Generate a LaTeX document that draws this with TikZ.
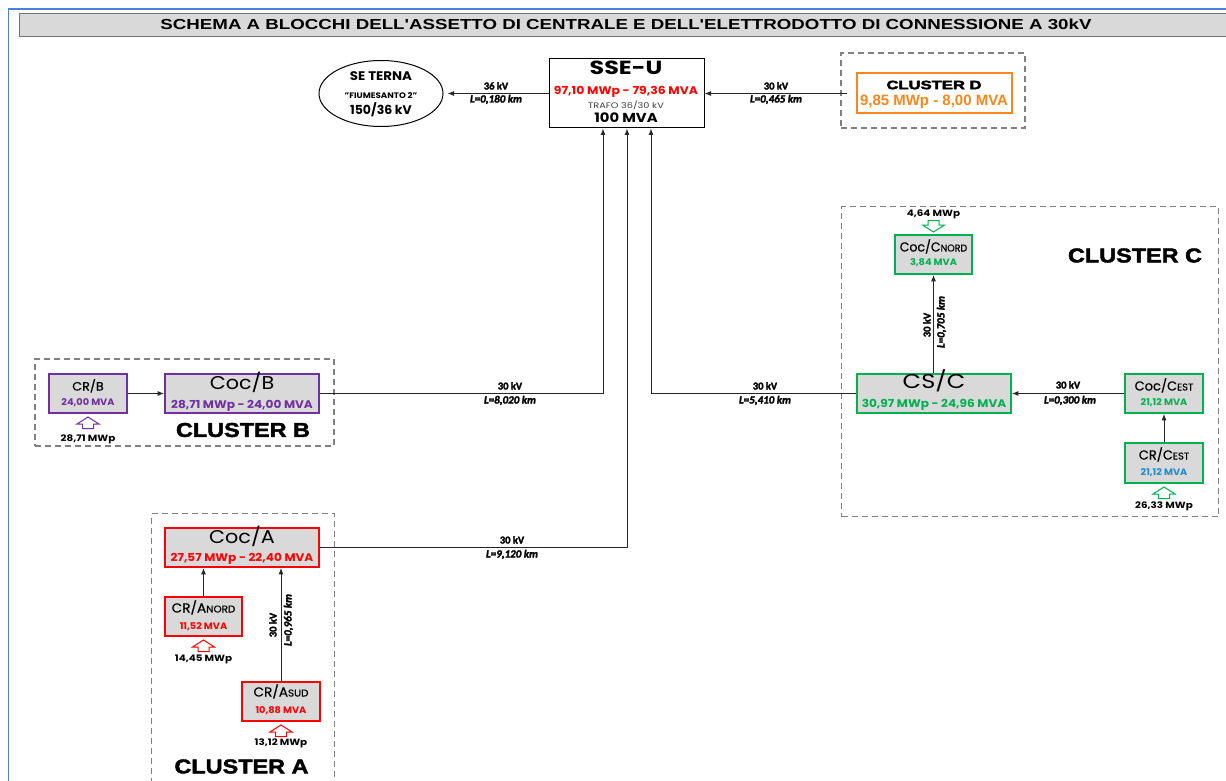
\documentclass[tikz,border=0pt]{standalone}
\usepackage{fontspec}
\usepackage{graphicx}
\setmainfont{Poppins}
\newfontfamily\namefont{Poppins}[FakeBold=0.5]
\newfontfamily\arialfont{Liberation Sans}
\newfontfamily\heavyfont{Liberation Sans}[BoldFeatures={FakeBold=2}]
\newfontfamily\heavierfont{Liberation Sans}[BoldFeatures={FakeBold=3}]
\newfontfamily\calfont{Carlito}[FakeBold=2.4]
\usetikzlibrary{arrows.meta,shapes.geometric}

\definecolor{cred}{RGB}{255,0,0}
\definecolor{cgreen}{RGB}{0,176,80}
\definecolor{cpurple}{RGB}{112,48,160}
\definecolor{corange}{RGB}{247,135,30}
\definecolor{cblue}{RGB}{30,140,210}
\definecolor{boxgray}{RGB}{217,217,217}
\definecolor{frameblue}{RGB}{79,129,219}
\definecolor{dashgray}{RGB}{128,128,128}

\newcommand\fs[1]{\fontsize{#1}{#1}\selectfont}
\newcommand\smc[1]{\scalebox{0.76}{#1}}
\newcommand\sx[2][1.1]{\scalebox{#1}[1]{#2}}
\newcommand\lenkm[1]{L{\upshape =}#1 km}
% hollow block arrows (tip at given point)
\newcommand\hollowup[3]{\draw[#3, line width=1pt, fill=white] (#1,#2) -- ++(11,7) -- ++(-5.5,0) -- ++(0,4.5) -- ++(-11,0) -- ++(0,-4.5) -- ++(-5.5,0) -- cycle;}
\newcommand\hollowdown[3]{\draw[#3, line width=1pt, fill=white] (#1,#2) -- ++(11,-7) -- ++(-5.5,0) -- ++(0,-4.5) -- ++(-11,0) -- ++(0,4.5) -- ++(-5.5,0) -- cycle;}

\begin{document}
\begin{tikzpicture}[x=1pt,y=-1pt,
  t/.style={inner sep=0pt, text height=0.7em, text depth=0pt},
  plain/.style={inner sep=0pt},
  blk/.style={draw=#1, line width=1.8pt, fill=boxgray, inner sep=0pt},
  cluster/.style={draw=dashgray, dash pattern=on 6pt off 4pt, line width=1.1pt, inner sep=0pt},
  wire/.style={line width=0.9pt, black!85},
  arr/.style={wire, -{Latex[length=6.5pt,width=5pt]}},
  nm/.style={t, font=\namefont\fs{13}},
  bignm/.style={t, font=\fs{18.5}},
  val/.style={t, font=\bfseries\fs{9.3}},
  bigval/.style={t, font=\bfseries\fs{11}},
  mwp/.style={t, font=\bfseries\fs{9}},
  kv/.style={t, font=\calfont\bfseries\fs{10.5}},
  len/.style={t, font=\calfont\bfseries\itshape\fs{11}}
]
\useasboundingbox (0,0) rectangle (1226,781);

% outer frame and title bar
\draw[frameblue, line width=1.5pt] (8.5,795) -- (8.5,9) -- (1240,9);
\node[draw=black!55, line width=1pt, fill=boxgray, minimum width=1221pt, minimum height=23pt, anchor=north west, inner sep=0pt] (titlebar) at (19,13) {};
\node[plain] (title) at (626,24.5) {\resizebox{931pt}{10.5pt}{\arialfont\bfseries SCHEMA A BLOCCHI DELL'ASSETTO DI CENTRALE E DELL'ELETTRODOTTO DI CONNESSIONE A 30kV}};

% ---------- SSE-U and grid connection ----------
\node[draw, line width=1pt, fill=white, minimum width=155pt, minimum height=69pt, inner sep=0pt] (sseu) at (626.5,93.5) {};
\node[t, font=\bfseries\fs{19}] (sseuA) at (626,71) {\sx[1.25]{SSE-U}};
\node[t, font=\bfseries\fs{11}, text=cred] (sseuB) at (626,91) {\sx[1.13]{97,10 MWp - 79,36 MVA}};
\node[t, font=\fs{8}, text=black!75] (sseuC) at (626,105) {\sx[1.22]{TRAFO 36/30 kV}};
\node[t, font=\bfseries\fs{13}] (sseuD) at (626,119) {\sx[1.14]{100 MVA}};

\node[draw, ellipse, line width=1pt, fill=white, minimum width=124pt, minimum height=66pt, inner sep=0pt] (terna) at (381,93.5) {};
\node[t, font=\bfseries\fs{12.5}] (ternaA) at (381,77) {\sx[1.07]{SE TERNA}};
\node[t, font=\bfseries\fs{8}] (ternaB) at (381,95) {\sx[1.09]{"FIUMESANTO 2"}};
\node[t, font=\bfseries\fs{12.5}] (ternaC) at (381,111) {150/36 kV};

\draw[arr, shorten >=4pt] (sseu.west) -- (terna.east);
\node[kv] (kvT) at (496,86) {36 kV};
\node[len] (lenT) at (496,99) {\lenkm{0,180}};

% ---------- Cluster D ----------
\node[cluster, minimum width=184pt, minimum height=75pt] (clD) at (933,90.5) {};
\node[draw=corange, line width=1.8pt, fill=white, minimum width=155pt, minimum height=40pt, inner sep=0pt] (cD) at (934.5,93) {};
\node[plain] (cDA) at (934,85) {\resizebox{95pt}{8.5pt}{\heavierfont\bfseries CLUSTER D}};
\node[plain, text=corange] (cDB) at (934,102) {\resizebox{148pt}{!}{\arialfont\bfseries\fs{12.5}9,85 MWp - 8,00 MVA}};
\draw[arr, shorten <=-7pt] (clD.west |- sseu.east) -- (sseu.east);
\node[kv] (kvD) at (776,86) {30 kV};
\node[len] (lenD) at (776,99) {\lenkm{0,465}};

% ---------- Cluster B ----------
\node[cluster, minimum width=299pt, minimum height=87pt] (clB) at (184.5,402.5) {};
\node[blk=cpurple, minimum width=78pt, minimum height=39pt] (crB) at (88,393.5) {};
\node[t, font=\namefont\fs{12}] (crBA) at (88,387) {\sx[1.06]{CR/B}};
\node[val, text=cpurple] (crBB) at (88,402) {\sx[1.05]{24,00 MVA}};
\node[blk=cpurple, minimum width=154pt, minimum height=39pt] (cocB) at (242,393.5) {};
\node[bignm] (cocBA) at (242,386) {\sx[1.12]{Coc/B}};
\node[bigval, text=cpurple] (cocBB) at (242,405) {\sx{28,71 MWp - 24,00 MVA}};
\draw[arr] (crB.east) -- (cocB.west);
\hollowup{88}{417}{cpurple}
\node[mwp] (pB) at (88,438) {\sx[1.15]{28,71 MWp}};
\node[plain] (labB) at (243,430) {\resizebox{134pt}{14pt}{\heavyfont\bfseries CLUSTER B}};

% ---------- Cluster A ----------
\node[cluster, minimum width=183pt, minimum height=300pt, anchor=north west] (clA) at (151,513) {};
\node[blk=cred, minimum width=154pt, minimum height=39pt] (cocA) at (242,547.5) {};
\node[bignm] (cocAA) at (242,540) {\sx[1.12]{Coc/A}};
\node[bigval, text=cred] (cocAB) at (242,557.5) {\sx{27,57 MWp - 22,40 MVA}};
\node[blk=cred, minimum width=77pt, minimum height=39pt] (crAn) at (203.5,616.5) {};
\node[nm] (crAnA) at (203.5,609) {\sx[1.05]{CR/A\smc{NORD}}};
\node[val, text=cred] (crAnB) at (203.5,626) {\sx[1.05]{11,52 MVA}};
\node[blk=cred, minimum width=78pt, minimum height=39pt] (crAs) at (281,701.5) {};
\node[nm] (crAsA) at (281,693) {\sx[1.05]{CR/A\smc{SUD}}};
\node[val, text=cred] (crAsB) at (281,710) {\sx[1.05]{10,88 MVA}};
\draw[arr] (crAn.north) -- (crAn.north |- cocA.south);
\draw[arr] (crAs.north) -- (crAs.north |- cocA.south);
\node[kv, rotate=90] (kvA) at (273,625) {30 kV};
\node[len, rotate=90] (lenA) at (288,620) {\lenkm{0,965}};
\hollowup{203.5}{640}{cred}
\node[mwp] (pAn) at (203.5,658) {\sx[1.15]{14,45 MWp}};
\hollowup{281}{725}{cred}
\node[mwp] (pAs) at (281,742) {\sx[1.15]{13,12 MWp}};
\node[plain] (labA) at (241.5,766.5) {\resizebox{134pt}{14pt}{\heavyfont\bfseries CLUSTER A}};

% ---------- Cluster C ----------
\node[cluster, minimum width=377pt, minimum height=310pt, anchor=north west] (clC) at (841,206) {};
\node[blk=cgreen, minimum width=77pt, minimum height=39pt] (cocCn) at (933.5,254.5) {};
\node[nm] (cocCnA) at (933.5,248) {\sx[0.96]{Coc/C\smc{NORD}}};
\node[val, text=cgreen] (cocCnB) at (933.5,262) {\sx[1.05]{3,84 MVA}};
\hollowdown{933.5}{232}{cgreen}
\node[mwp] (pCn) at (933.5,213) {\sx[1.15]{4,64 MWp}};
\node[plain] (labC) at (1135,255.5) {\resizebox{134pt}{14pt}{\heavyfont\bfseries CLUSTER C}};

\node[blk=cgreen, minimum width=154pt, minimum height=39pt] (csC) at (934,393.5) {};
\node[t, font=\fs{20}] (csCA) at (934,385) {\sx[1.2]{CS/C}};
\node[bigval, text=cgreen] (csCB) at (934,403.5) {\sx{30,97 MWp - 24,96 MVA}};
\node[blk=cgreen, minimum width=78pt, minimum height=39pt] (cocCe) at (1164,393.5) {};
\node[nm] (cocCeA) at (1164,387) {Coc/C\smc{EST}};
\node[val, text=cgreen] (cocCeB) at (1164,402) {\sx[1.05]{21,12 MVA}};
\node[blk=cgreen, minimum width=78pt, minimum height=40pt] (crCe) at (1164,463) {};
\node[nm] (crCeA) at (1164,456) {CR/C\smc{EST}};
\node[val, text=cblue] (crCeB) at (1164,472) {\sx[1.05]{21,12 MVA}};
\hollowup{1164}{487}{cgreen}
\node[mwp] (pCe) at (1164,505) {\sx[1.15]{26,33 MWp}};

\draw[arr] (cocCn.south |- csC.north) -- (cocCn.south);
\node[kv, rotate=90] (kvCn) at (927,325) {30 kV};
\node[len, rotate=90] (lenCn) at (941,322) {\lenkm{0,705}};
\draw[arr] (cocCe.west) -- (csC.east);
\node[kv] (kvCe) at (1068,385) {30 kV};
\node[len] (lenCe) at (1070,400) {\lenkm{0,300}};
\draw[arr] (crCe.north) -- (cocCe.south);

% ---------- feeders into SSE-U ----------
\coordinate (jB) at (603,0);
\coordinate (jA) at (627,0);
\coordinate (jC) at (651,0);
\draw[arr] (cocB.east) -| (jB |- sseu.south);
\node[kv] (kvB) at (510,386) {30 kV};
\node[len] (lenB) at (510,400) {\lenkm{8,020}};
\draw[arr] (cocA.east) -| (jA |- sseu.south);
\node[kv] (kvA2) at (512,540) {30 kV};
\node[len] (lenA2) at (512,554) {\lenkm{9,120}};
\draw[arr] (csC.west) -| (jC |- sseu.south);
\node[kv] (kvC) at (765,386) {30 kV};
\node[len] (lenC) at (765,400) {\lenkm{5,410}};
\end{tikzpicture}
\end{document}
